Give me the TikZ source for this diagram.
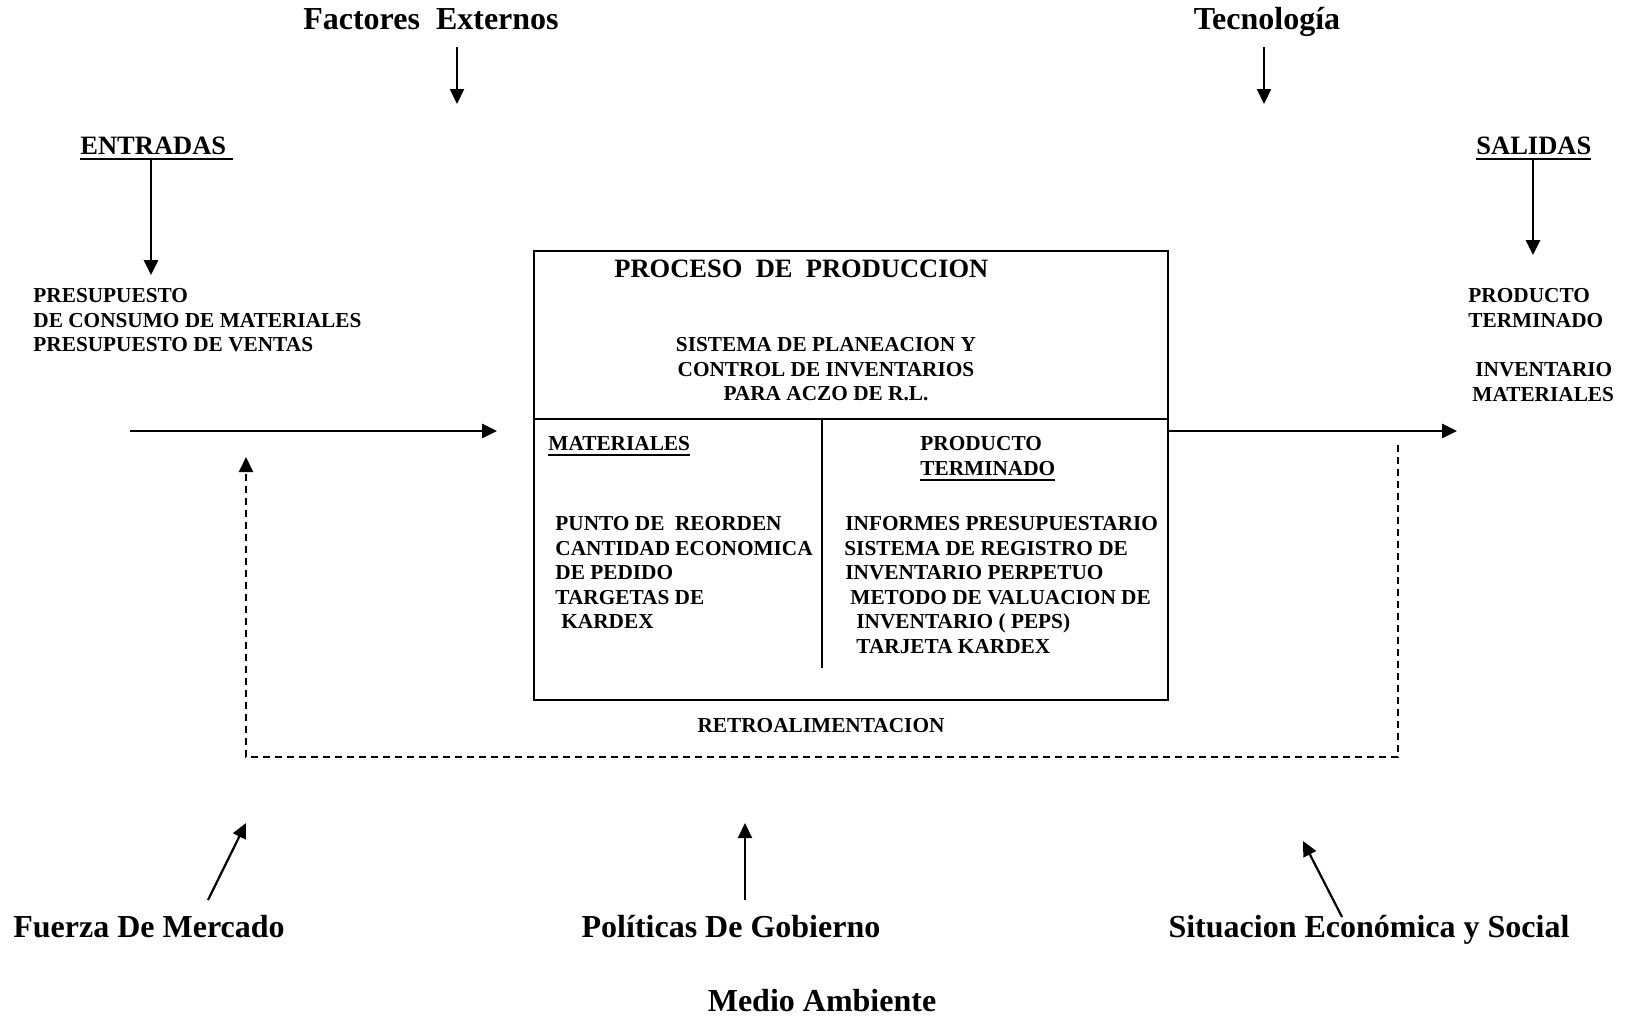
\documentclass[tikz,border=0pt]{standalone}
\usepackage{fontspec}
\setmainfont{Liberation Serif}
\usetikzlibrary{arrows.meta}
\newcommand{\ulx}[1]{\leavevmode\setbox0=\hbox{#1}\rlap{\rule[-3.1pt]{\wd0}{1.1pt}}\box0}
\begin{document}
\begin{tikzpicture}[x=0.5pt,y=-0.5pt,
  big/.style={font=\fontsize{16}{19}\selectfont\bfseries, inner sep=0},
  med/.style={font=\fontsize{13.25}{15}\selectfont\bfseries, inner sep=0},
  small/.style={font=\fontsize{10.65}{12.25}\selectfont\bfseries, inner sep=0, align=left},
  arr/.style={line width=1.4pt, -{Triangle[length=7.5pt,width=7pt]}},
  thinarr/.style={line width=1.1pt, -{Triangle[length=7.5pt,width=7pt]}},
  boxline/.style={line width=1pt},
  fb/.style={line width=1pt, dash pattern=on 3.5pt off 2.5pt},
]
\useasboundingbox (0,0) rectangle (1630,1017);

% top labels
\node[big, anchor=base] (fe) at (431,30) {Factores\ \ Externos};
\node[big, anchor=base] (tec) at (1267,30) {Tecnología};
\coordinate (feA) at (457,47);  \coordinate (feB) at (457,104);
\coordinate (tecA) at (1264,47); \coordinate (tecB) at (1264,104);
\draw[thinarr] (feA) -- (feB);
\draw[thinarr] (tecA) -- (tecB);

% entradas
\node[med, anchor=base west] (ent) at (80,154) {\ulx{ENTRADAS~}};
\coordinate (entA) at (151,159); \coordinate (entB) at (151,275);
\draw[arr] (entA) -- (entB);
\node[small, anchor=north west] (pres) at (33,288) {PRESUPUESTO\\DE CONSUMO DE MATERIALES\\PRESUPUESTO DE VENTAS};

% salidas
\node[med, anchor=base west] (sal) at (1476,154) {\ulx{SALIDAS}};
\coordinate (salA) at (1533,159); \coordinate (salB) at (1533,255);
\draw[arr] (salA) -- (salB);
\node[small, anchor=north west] (pt) at (1468,288) {PRODUCTO\\TERMINADO};
\node[small, anchor=north west] (inv) at (1472,362) {\hspace*{1.5pt}INVENTARIO\\MATERIALES};

% process box
\node[draw, boxline, minimum width=317pt, minimum height=224.5pt, inner sep=0] (proc) at (851,475.5) {};
\coordinate (divL) at (534,419); \coordinate (divR) at (1168,419);
\coordinate (vdT) at (822,419); \coordinate (vdB) at (822,668);
\draw[boxline] (divL) -- (divR);
\draw[boxline] (vdT) -- (vdB);
\node[med, anchor=base west] (proct) at (614,277) {PROCESO\ \ DE\ \ PRODUCCION};
\node[small, align=center, anchor=north] (sis) at (826,337) {SISTEMA DE PLANEACION Y\\CONTROL DE INVENTARIOS\\PARA ACZO DE R.L.};
\node[small, anchor=base west] (mat) at (548,450) {\ulx{MATERIALES}};
\node[small, anchor=north west] (ptt) at (920,436) {PRODUCTO\\\ulx{TERMINADO}};
\node[small, anchor=north west] (mlist) at (555,516) {PUNTO DE\ \ REORDEN\\CANTIDAD ECONOMICA\\DE PEDIDO\\TARGETAS DE\\\hspace*{3pt}KARDEX};
\node[small, anchor=north west] (plist) at (844,516) {\hspace*{0.5pt}INFORMES PRESUPUESTARIO\\SISTEMA DE REGISTRO DE\\\hspace*{0.5pt}INVENTARIO PERPETUO\\\hspace*{3pt}METODO DE VALUACION DE\\\hspace*{6pt}INVENTARIO ( PEPS)\\\hspace*{6pt}TARJETA KARDEX};
\node[small, anchor=base] (retro) at (821,732) {RETROALIMENTACION};

% main flow
\coordinate (inA) at (130,431); \coordinate (inB) at (497,431);
\draw[arr] (inA) -- (inB);
\coordinate (outB) at (1457,431);
\draw[arr] (proc.east |- outB) -- (outB);

% feedback
\coordinate (fb1) at (1398,445); \coordinate (fb2) at (1398,757);
\coordinate (fb3) at (246,757); \coordinate (fb4) at (246,457);
\draw[fb, -{Triangle[length=7.5pt,width=7pt]}] (fb1) -- (fb2) -- (fb3) -- (fb4);

% bottom labels
\node[big, anchor=base] (fm) at (149,937) {Fuerza De Mercado};
\node[big, anchor=base] (pg) at (731,937) {Políticas De Gobierno};
\node[big, anchor=base] (se) at (1369,937) {Situacion Económica y Social};
\node[big, anchor=base] (ma) at (822,1011) {Medio Ambiente};
\coordinate (fmA) at (208,900); \coordinate (fmB) at (246,823);
\coordinate (pgA) at (745,900); \coordinate (pgB) at (745,823);
\coordinate (seA) at (1342,917); \coordinate (seB) at (1303,841);
\draw[thinarr] (fmA) -- (fmB);
\draw[thinarr] (pgA) -- (pgB);
\draw[thinarr] (seA) -- (seB);
\end{tikzpicture}
\end{document}
